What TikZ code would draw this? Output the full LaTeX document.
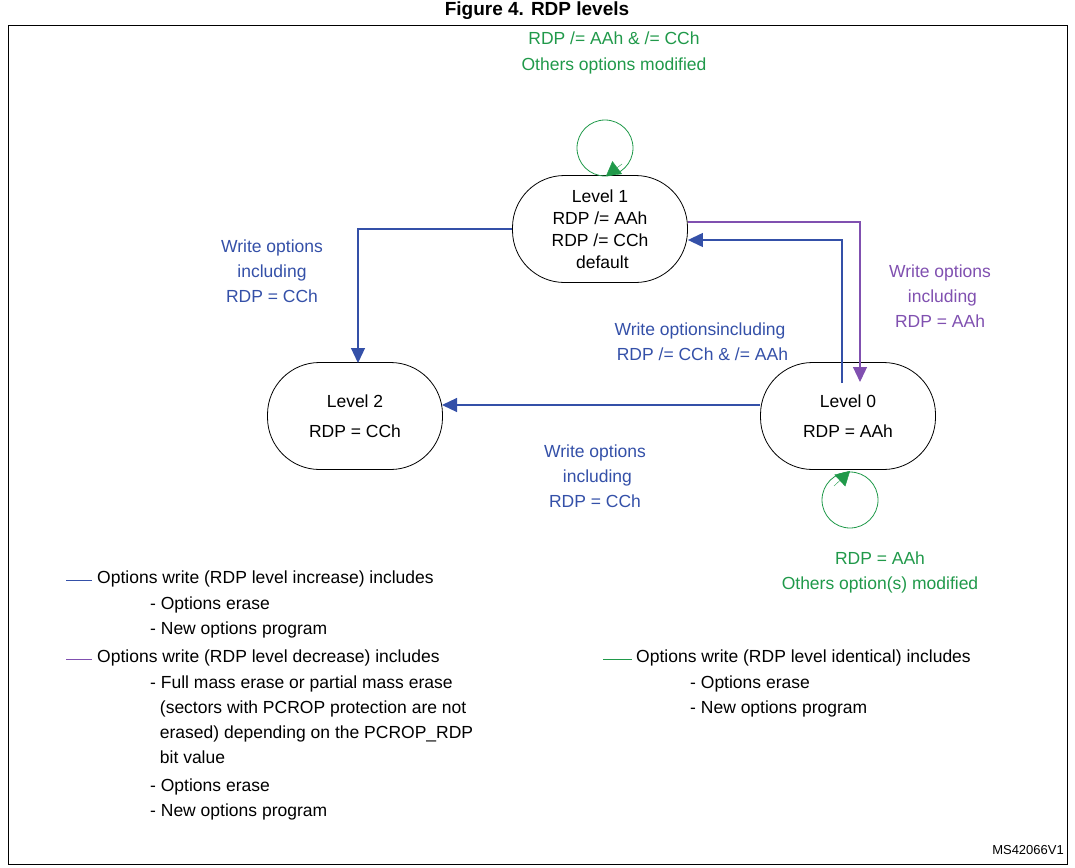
\documentclass[tikz,border=0pt]{standalone}
\usepackage{fontspec}
\setmainfont{Liberation Sans}
\usetikzlibrary{arrows.meta}
\definecolor{cb}{HTML}{3450A8}
\definecolor{cp}{HTML}{8050B0}
\definecolor{cg}{HTML}{20994A}
\begin{document}
\begin{tikzpicture}[x=1pt,y=-1pt,
  st/.style={draw,thick,rounded corners=52pt,minimum width=175pt,minimum height=107pt,inner sep=1pt,align=center,font=\fontsize{17.5}{22}\selectfont},
  lb/.style={align=center,font=\fontsize{17.5}{25}\selectfont},
  tx/.style={align=left,font=\fontsize{17.5}{25}\selectfont,anchor=north west,inner sep=0pt},
  ar/.style={line width=1.2pt,-{Triangle[length=15pt,width=14pt]}}]
\useasboundingbox (0,0) rectangle (1075,867);
\node[font=\bfseries\fontsize{19}{22}\selectfont] (title) at (537,11) {Figure 4. RDP levels};
\draw[thick] (8,25) rectangle (1067,864);
\node[st] (l1) at (600,229) {Level 1\\RDP /= AAh\\RDP /= CCh\\\ default};
\node[st] (l2) at (355,416) {Level 2\\[8pt]RDP = CCh};
\node[st] (l0) at (848,416) {Level 0\\[8pt]RDP = AAh};
\draw[cb,ar] (l1.west) -| (358,363);
\draw[cb,ar] (842,383) |- (l1.east|-0,240);
\draw[cp,ar] (l1.east|-0,222) -| (860,382);
\draw[cb,ar] (l0.west|-0,405) -- (442,405);
\node[draw=cg,thick,circle,minimum size=56pt] (c1) at (605,148) {};
\draw[cg,-{Triangle[length=14pt,width=16pt]}] (622,164) -- (606,176);
\node[draw=cg,thick,circle,minimum size=56pt] (c0) at (850,500) {};
\draw[cg,-{Triangle[length=14pt,width=16pt]}] (834,486) -- (850,471);
\node[lb,cg] (t1) at (614,38) {RDP /= AAh \& /= CCh};
\node[lb,cg] (t2) at (614,66) {Others options modified};
\node[lb,cb] (t3) at (272,271) {Write options\\including\\RDP = CCh};
\node[lb,cp] (t4) at (940,296) {Write options\\\ including\\RDP = AAh};
\node[lb,cb] (t5) at (700,342) {Write optionsincluding\\\ RDP /= CCh \& /= AAh};
\node[lb,cb] (t6) at (595,476) {Write options\\\ including\\RDP = CCh};
\node[lb,cg] (t7) at (880,572) {RDP = AAh\\Others option(s) modified};
\draw[cb,thick] (66,580) coordinate (a1) -- (92,580) coordinate (a2);
\draw[cp,thick] (66,659) coordinate (b1) -- (92,659) coordinate (b2);
\draw[cg,thick] (603,659) coordinate (g1) -- (632,659) coordinate (g2);
\node[tx] (x1) at (97,571) {Options write (RDP level increase) includes};
\node[tx] (x2) at (150,597) {- Options erase\\- New options program};
\node[tx] (x3) at (97,650) {Options write (RDP level decrease) includes};
\node[tx] (x4) at (150,676) {- Full mass erase or partial mass erase\\\ \ (sectors with PCROP protection are not\\\ \ erased) depending on the PCROP\_RDP\\\ \ bit value};
\node[tx] (x5) at (150,779) {- Options erase\\- New options program};
\node[tx] (x6) at (636,650) {Options write (RDP level identical) includes};
\node[tx] (x7) at (690,676) {- Options erase\\- New options program};
\node[font=\fontsize{13}{15}\selectfont,anchor=east,inner sep=0pt] (ms) at (1064,850) {MS42066V1};
\end{tikzpicture}
\end{document}
